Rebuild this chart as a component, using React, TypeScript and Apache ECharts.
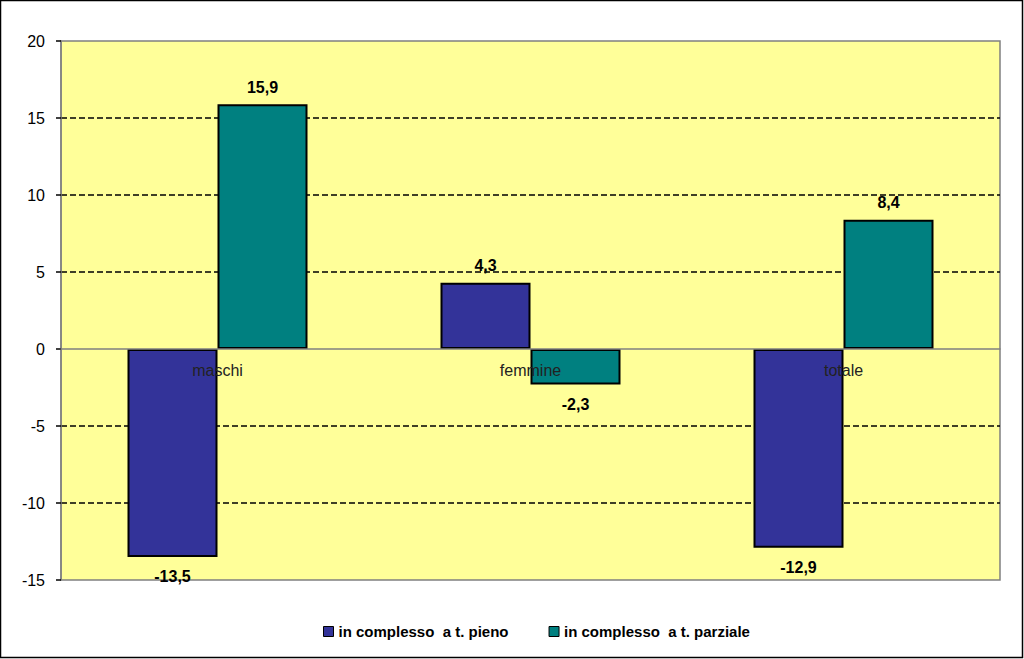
import React, { useEffect, useRef } from "react";
import * as echarts from "echarts";

const categories = ["maschi", "femmine", "totale"];
const seriesNames = ["in complesso  a t. pieno", "in complesso  a t. parziale"];
const pieno = [-13.5, 4.3, -12.9];
const parziale = [15.9, -2.3, 8.4];
const colors = ["#333399", "#008080"];

const FONT = "Arial, 'Liberation Sans', sans-serif";

function mkData(vals: number[]) {
  return vals.map((v) => ({
    value: v,
    label: {
      position: v >= 0 ? "top" : "bottom",
      distance: v >= 0 ? 9 : 12,
    },
  }));
}

export default function App() {
  const ref = useRef<HTMLDivElement>(null);
  useEffect(() => {
    const chart = echarts.init(ref.current!, null, { renderer: "svg" });
    const labelCfg = {
      show: true,
      color: "#000",
      fontWeight: "bold",
      fontSize: 16,
      fontFamily: FONT,
      formatter: (p: any) => String(p.value).replace(".", ","),
    };
    chart.setOption({
      animation: false,
      backgroundColor: "#ffffff",
      grid: {
        left: 61,
        right: 24,
        top: 41,
        bottom: 79,
        show: true,
        backgroundColor: "#FFFF99",
        borderColor: "#808080",
        borderWidth: 1.5,
      },
      legend: {
        bottom: 15,
        left: 318,
        itemWidth: 10,
        itemHeight: 10,
        itemGap: 40,
        icon: "rect",
        textStyle: { fontFamily: FONT, fontSize: 15, fontWeight: "bold", color: "#000" },
        data: seriesNames.map((n) => ({ name: n, itemStyle: { borderColor: "#000", borderWidth: 1 } })),
      },
      xAxis: {
        type: "category",
        data: categories,
        z: 5,
        offset: -231,
        axisLine: { onZero: false, lineStyle: { color: "#808080", width: 1.5 } },
        axisTick: { show: false },
        axisLabel: { color: "#222", fontSize: 16, fontFamily: FONT, margin: 13 },
      },
      yAxis: {
        type: "value",
        min: -15,
        max: 20,
        interval: 5,
        axisLine: { show: true, lineStyle: { color: "#808080", width: 1.5 } },
        axisTick: { show: true, length: 5, lineStyle: { color: "#000", width: 1.5 } },
        axisLabel: { color: "#000", fontSize: 16, fontFamily: FONT, margin: 16 },
        splitLine: {
          show: true,
          lineStyle: {
            type: [6, 3],
            width: 1.6,
            color: ["transparent", "#000", "#000", "transparent", "#000", "#000", "#000", "transparent"],
          },
        },
      },
      series: [
        {
          name: seriesNames[0],
          type: "bar",
          data: mkData(pieno),
          barWidth: 90,
          barGap: "0%",
          itemStyle: { color: colors[0], borderColor: "#000", borderWidth: 2 },
          label: labelCfg,
        },
        {
          name: seriesNames[1],
          type: "bar",
          data: mkData(parziale),
          barWidth: 90,
          barGap: "0%",
          itemStyle: { color: colors[1], borderColor: "#000", borderWidth: 2 },
          label: labelCfg,
        },
      ],
      graphic: [
        {
          type: "rect",
          shape: { x: 0.5, y: 0.5, width: 1022, height: 657 },
          style: { fill: "none", stroke: "#000", lineWidth: 1.5 },
          z: 100,
          silent: true,
        },
      ],
    });
    return () => chart.dispose();
  }, []);
  return (
    <div
      ref={ref}
      style={{ position: "absolute", left: 0, top: 0, width: 1024, height: 659 }}
    />
  );
}
